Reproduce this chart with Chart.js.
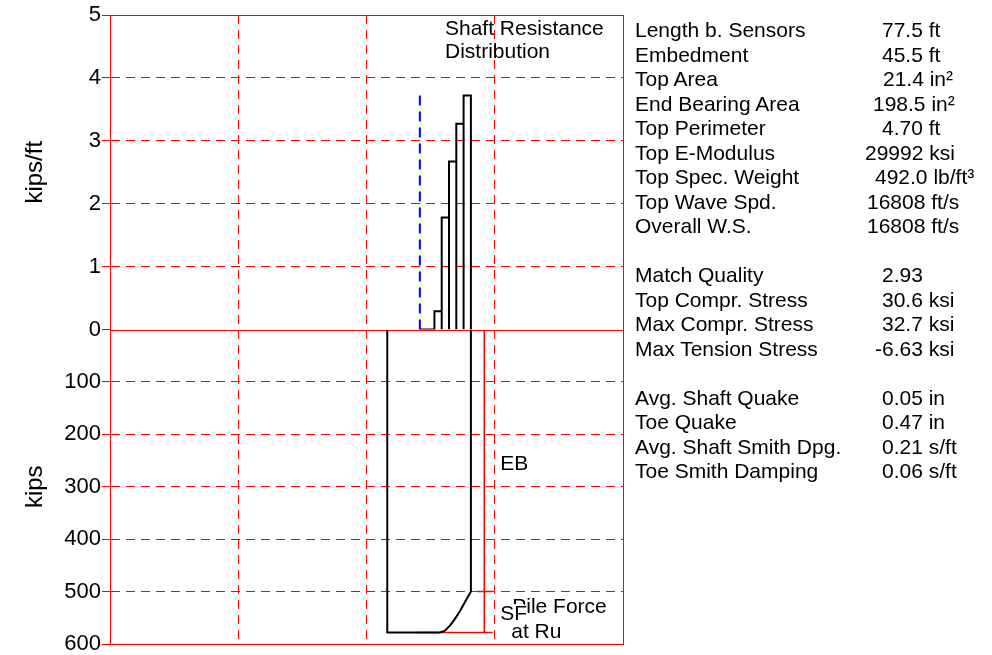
<!DOCTYPE html>
<html>
<head>
<meta charset="utf-8">
<script src="https://cdn.jsdelivr.net/npm/chart.js@4/dist/chart.umd.min.js"></script>
<style>
  body { margin: 0; background: #fff; }
  #wrap { position: relative; width: 992px; height: 655px; }
  #c { position: absolute; left: 0; top: 0; }
  .row { position: absolute; height: 24px; line-height: 24px; white-space: nowrap;
         font: 21px "Liberation Sans", Arial, sans-serif; color: #000; }
</style>
</head>
<body>
<div id="wrap">
  <canvas id="c" width="992" height="655"></canvas>
</div>
<script>
// shaft resistance per 6.5 ft segment below grade (kips/ft), positions in ft along pile
const segmentEdges = [32, 38.5, 45, 51.5, 58, 64.5, 71, 77.5];
const shaftResistance = [0, 0, 0.29, 1.78, 2.67, 3.27, 3.72];

// grade line (blue dashed)
const gradeX = 32;
const gradeTop = 3.72;

// pile force at Ru (kips) along the pile
const forceX = [3, 3, 50, 54, 58.9, 63, 67.8, 72, 77.5, 77.5];
const forceKips = [0, 578, 578, 575, 565, 553, 537, 521, 500, 0];

// EB / SF dimension lines
const ruKips = 578;
const ebKips = 500;
const dimX = 89.4;

// info table
const infoLabels = ['Length b. Sensors', 'Embedment', 'Top Area', 'End Bearing Area', 'Top Perimeter',
  'Top E-Modulus', 'Top Spec. Weight', 'Top Wave Spd.', 'Overall W.S.', '',
  'Match Quality', 'Top Compr. Stress', 'Max Compr. Stress', 'Max Tension Stress', '',
  'Avg. Shaft Quake', 'Toe Quake', 'Avg. Shaft Smith Dpg.', 'Toe Smith Damping'];
const infoValues = ['77.5 ft', '45.5 ft', '21.4 in²', '198.5 in²', '4.70 ft',
  '29992 ksi', '492.0 lb/ft³', '16808 ft/s', '16808 ft/s', '',
  '2.93', '30.6 ksi', '32.7 ksi', '-6.63 ksi', '',
  '0.05 in', '0.47 in', '0.21 s/ft', '0.06 s/ft'];
const valueLeft = [882, 882, 883, 873, 882, 865, 875, 867, 867, 0,
  882, 882, 882, 875, 0, 882, 882, 882, 882];

const xMin = -244, xMax = 213;
const red = '#ff0000';
const gridDash = [9, 6];
const tickFont = { family: 'Liberation Sans', size: 22 };
const titleFont = { family: 'Liberation Sans', size: 24 };

// outline of each segment: up, across, down
const shaftOutline = [];
shaftResistance.forEach((r, i) => {
  shaftOutline.push({ x: segmentEdges[i], y: 0 }, { x: segmentEdges[i], y: r },
    { x: segmentEdges[i + 1], y: r }, { x: segmentEdges[i + 1], y: 0 });
});
const forceLine = forceX.map((x, i) => ({ x: x, y: forceKips[i] }));
const dimLines = [
  { x: dimX, y: 0 }, { x: dimX, y: ruKips }, { x: dimX, y: null },
  { x: 29.5, y: ruKips }, { x: 96.8, y: ruKips }, { x: 96.8, y: null },
  { x: 83, y: ebKips }, { x: 96.8, y: ebKips }
];

const frame = {
  id: 'frame',
  beforeDatasetsDraw(chart) {
    const { ctx, chartArea: a, scales } = chart;
    const y0 = Math.round(scales.yTop.getPixelForValue(0)) + 0.5;
    ctx.save();
    ctx.strokeStyle = red;
    ctx.lineWidth = 1;
    ctx.strokeRect(Math.round(a.left) + 0.5, Math.round(a.top) + 0.5,
      Math.round(a.right - a.left), Math.round(a.bottom - a.top));
    ctx.beginPath();
    ctx.moveTo(a.left, y0);
    ctx.lineTo(a.right, y0);
    ctx.stroke();
    ctx.restore();
  },
  afterDatasetsDraw(chart) {
    const { ctx, scales } = chart;
    const x = scales.x, yb = scales.yBot;
    const lx = x.getPixelForValue(dimX) + 16;
    ctx.save();
    ctx.fillStyle = '#000';
    ctx.font = '21px "Liberation Sans", Arial, sans-serif';
    ctx.textBaseline = 'middle';
    ctx.fillText('Shaft Resistance', 445, 29);
    ctx.fillText('Distribution', 445, 52);
    ctx.fillText('EB', lx, yb.getPixelForValue(ebKips / 2) + 4);
    const sfY = yb.getPixelForValue((ebKips + ruKips) / 2);
    ctx.fillText('Pile Force', lx + 12, sfY - 5);
    ctx.fillText('at Ru', lx + 11, sfY + 20);
    ctx.fillStyle = '#fff';
    ctx.fillRect(lx, sfY - 8, 24, 20);
    ctx.fillStyle = '#000';
    ctx.fillText('SF', lx, sfY + 2);
    ctx.restore();
  }
};

const yTicks = { color: '#000', font: tickFont, padding: 1, autoSkip: false };
// the zero line is drawn solid by the frame plugin
const yGrid = { color: c => (c.tick && c.tick.value === 0) ? 'rgba(0,0,0,0)' : red,
  tickColor: red, tickLength: 8 };
// fixed axis width; no extra room for the end labels
const fitY = s => { s.width = 110; s.paddingTop = 0; s.paddingBottom = 0; };

new Chart(document.getElementById('c'), {
  type: 'line',
  data: {
    datasets: [
      { label: 'Shaft Resistance', yAxisID: 'yTop', data: shaftOutline,
        borderColor: '#000', borderWidth: 2 },
      { label: 'Grade', yAxisID: 'yTop', data: [{ x: gradeX, y: 0 }, { x: gradeX, y: gradeTop }],
        borderColor: '#0000ff', borderWidth: 2, borderDash: [10, 6] },
      { label: 'Pile Force at Ru', yAxisID: 'yBot', data: forceLine,
        borderColor: '#000', borderWidth: 2 },
      { label: 'EB / SF', yAxisID: 'yBot', data: dimLines,
        borderColor: red, borderWidth: 1.5, spanGaps: false }
    ]
  },
  options: {
    responsive: false,
    animation: false,
    elements: { point: { radius: 0 }, line: { tension: 0, fill: false } },
    layout: { padding: { left: 0, top: 15, right: 369, bottom: 11 } },
    plugins: { legend: { display: false }, tooltip: { enabled: false } },
    scales: {
      x: {
        type: 'linear', min: xMin, max: xMax,
        afterBuildTicks: s => { s.ticks = [1, 2, 3].map(q => ({ value: xMin + q * (xMax - xMin) / 4 })); },
        ticks: { display: false },
        grid: { color: red, drawTicks: false },
        border: { display: false, dash: gridDash },
        afterFit: s => { s.height = 0; }
      },
      // stacked boxes: the later one sits on top
      yBot: {
        type: 'linear', position: 'left', stack: 'v', stackWeight: 1, min: 0, max: 600, reverse: true,
        ticks: Object.assign({ stepSize: 100, callback: v => v === 0 ? '' : v }, yTicks),
        grid: yGrid,
        border: { color: red, dash: gridDash },
        title: { display: true, text: 'kips', color: '#000', font: titleFont, padding: { top: 21, bottom: 0 } },
        afterFit: fitY
      },
      yTop: {
        type: 'linear', position: 'left', stack: 'v', stackWeight: 1, min: 0, max: 5,
        ticks: Object.assign({ stepSize: 1 }, yTicks),
        grid: yGrid,
        border: { color: red, dash: gridDash },
        title: { display: true, text: 'kips/ft', color: '#000', font: titleFont, padding: { top: 21, bottom: 0 } },
        afterFit: fitY
      }
    }
  },
  plugins: [frame]
});

// parameter table to the right of the plot
const wrap = document.getElementById('wrap');
infoLabels.forEach((label, i) => {
  if (!label) return;
  const top = 18 + 24.5 * i;
  const l = document.createElement('div');
  l.className = 'row';
  l.style.left = '635px';
  l.style.top = top + 'px';
  l.textContent = label;
  wrap.appendChild(l);
  const v = document.createElement('div');
  v.className = 'row';
  v.style.left = valueLeft[i] + 'px';
  v.style.top = top + 'px';
  v.textContent = infoValues[i];
  wrap.appendChild(v);
});
</script>
</body>
</html>
